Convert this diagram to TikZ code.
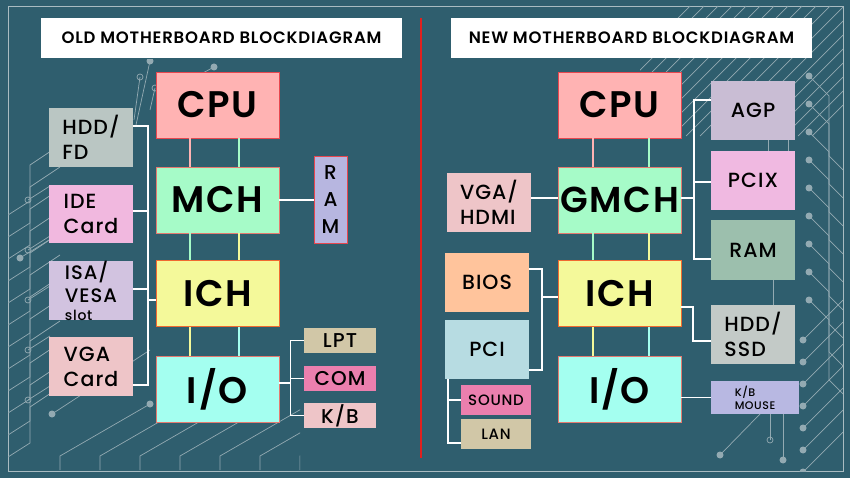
\documentclass[tikz,border=0pt]{standalone}
\usepackage{fontspec}
\setmainfont{Poppins}
\newfontfamily\chipfont[LetterSpace=5]{Poppins SemiBold}
\newfontfamily\partfont[LetterSpace=5]{Poppins Medium}
\definecolor{board}{HTML}{2F5E6E}
\definecolor{decor}{HTML}{93AAB2}
\definecolor{divred}{HTML}{E0201E}
\definecolor{edgered}{HTML}{E8474F}
\definecolor{edgesal}{HTML}{E57A70}
\definecolor{edgeorg}{HTML}{F06A30}
\definecolor{cpuc}{HTML}{FFB3B3}
\definecolor{mchc}{HTML}{A6FBC8}
\definecolor{ichc}{HTML}{F4F99A}
\definecolor{ioc}{HTML}{A4FFF0}
\definecolor{ramc}{HTML}{B7B6E0}
\definecolor{hddc}{HTML}{BAC6C3}
\definecolor{idec}{HTML}{F1B8DF}
\definecolor{isac}{HTML}{D2C3E0}
\definecolor{vgac}{HTML}{EEC5C8}
\definecolor{lptc}{HTML}{D1C7A7}
\definecolor{comc}{HTML}{EB7FAE}
\definecolor{agpc}{HTML}{C9BDD4}
\definecolor{pcixc}{HTML}{F0B9E1}
\definecolor{ramrc}{HTML}{9CBFAD}
\definecolor{ssdc}{HTML}{C3CAC7}
\definecolor{kbmc}{HTML}{B8B8E2}
\definecolor{biosc}{HTML}{FFC49C}
\definecolor{pcic}{HTML}{B7DCE2}
\tikzstyle{chip}=[line width=0.8pt, minimum width=123pt, minimum height=66pt, inner sep=0pt, text=black, font=\chipfont\fontsize{37}{37}\selectfont]
\tikzstyle{part}=[minimum width=84pt, minimum height=59pt, inner sep=0pt, align=left, text=black, font=\partfont\fontsize{20.5}{25}\selectfont]
\tikzstyle{port}=[minimum width=72pt, minimum height=25pt, inner sep=0pt, text=black, font=\partfont\fontsize{20}{20}\selectfont]
\tikzstyle{slot}=[minimum width=70pt, minimum height=30pt, inner sep=0pt, text=black, font=\partfont\fontsize{15}{15}\selectfont]
\tikzstyle{heading}=[fill=white, minimum width=361pt, minimum height=40pt, inner sep=0pt, font=\chipfont\fontsize{16.5}{16.5}\selectfont]
\tikzstyle{wire}=[draw=white, line width=1.2pt]
\tikzstyle{link}=[line width=1.2pt]
\tikzstyle{trace}=[draw=decor, line width=0.7pt]
\tikzstyle{pad}=[circle, fill=decor, inner sep=0pt, minimum size=7pt]
\tikzstyle{via}=[circle, draw=decor, line width=0.7pt, inner sep=0pt, minimum size=6pt]

\begin{document}
\begin{tikzpicture}[x=1pt, y=-1pt]
\fill[board] (0,0) rectangle (850,478);
\useasboundingbox (0,0) rectangle (850,478);

% circuit traces
\draw[trace, draw=decor!80] (8,6) rectangle (843,471);
\begin{scope}
  \clip (8,60) rectangle (300,471);
  \foreach \k in {0,...,11}
    \draw[trace] (8,215+22*\k) -- ++(22,-14) -- ++(0,-36) -- ++(30,-20);
  \foreach \k in {0,...,4}
    \draw[trace] (28,200+50*\k) node[via] {} -- ++(22,-14);
  \foreach \k in {0,...,6}
    \draw[trace] (60+40*\k,470) -- ++(0,-14) -- ++(90,-52) node[pad] {};
  \draw[trace] (150,61) node[pad] {} -- (136,125);
  \draw[trace] (140,77) node[via] {} -- (134,120);
  \draw[trace] (155,88) node[via] {} -- (150,110);
  \draw[trace] (20,258) node[pad] {} -- (49,240);
  \draw[trace] (52,414) node[pad] {} -- (150,350);
\end{scope}
\draw[trace] (214,67) node[pad] {} -- (190,80);
\begin{scope}
  \clip (640,6) rectangle (843,471);
  \foreach \k in {0,...,18}
    \draw[trace] (690+14*\k,6) -- ++(-130,130);
  \foreach \k in {0,...,8}
    \draw[trace] (843,170+28*\k) -- ++(-14,-14) -- ++(0,-60) -- ++(-20,-20) node[pad] {};
  \foreach \k in {0,...,6}
    \draw[trace] (843,300+22*\k) -- ++(-40,40) node[pad] {};
\end{scope}
\draw[trace] (768,135) -- (768,160);
\draw[trace] (788,135) -- (788,160);
\draw[trace] (773,270) -- (773,310);
\draw[trace] (770,414) -- (770,440) node[via] {};
\draw[trace] (783,414) -- (783,460) node[pad] {};
\draw[trace] (760,414) -- (720,455) node[pad] {};

% headings and divider
\node[heading] (oldT) at (221.5,38) {OLD MOTHERBOARD BLOCKDIAGRAM};
\node[heading] (newT) at (631.5,38) {NEW MOTHERBOARD BLOCKDIAGRAM};
\draw[divred, line width=1.2pt] (421,18) -- (421,458);

% old board
\node[chip, draw=edgered, fill=cpuc] (cpuL) at (217.5,105) {CPU};
\node[chip, draw=edgesal, fill=mchc] (mchL) at (217.5,200) {MCH};
\node[chip, draw=edgeorg, fill=ichc] (ichL) at (217.5,293.5) {ICH};
\node[chip, draw=edgesal, fill=ioc] (ioL) at (217.5,389) {I/O};
\node[part, draw=edgered, line width=0.8pt, fill=ramc, minimum width=33pt, minimum height=87pt, align=center, font=\partfont\fontsize{20}{27}\selectfont] (ramL) at (330.5,199.5) {R\\A\\M};
\node[part, fill=hddc] (hddL) at (91,137.5) {HDD/\\FD};
\node[part, fill=idec, minimum height=58pt] (ideL) at (91,214) {IDE\\Card};
\node[part, fill=isac, font=\partfont\fontsize{19.5}{23}\selectfont] (isaL) at (91,290.5) {ISA/\\VESA\\[-5pt]{\fontsize{14}{14}\selectfont slot}};
\node[part, fill=vgac] (vgaL) at (91,366.5) {VGA\\Card};
\node[port, fill=lptc] (lpt) at (340,340.5) {LPT};
\node[port, fill=comc] (com) at (340,378.5) {COM};
\node[port, fill=vgac] (kbL) at (340,415.5) {K/B};

\draw[link, cpuc] (cpuL.south -| 190,0) -- (mchL.north -| 190,0);
\draw[link, mchc] (cpuL.south -| 239,0) -- (mchL.north -| 239,0);
\draw[link, mchc] (mchL.south -| 190,0) -- (ichL.north -| 190,0);
\draw[link, ichc] (mchL.south -| 239,0) -- (ichL.north -| 239,0);
\draw[link, ichc] (ichL.south -| 190,0) -- (ioL.north -| 190,0);
\draw[link, ioc] (ichL.south -| 239,0) -- (ioL.north -| 239,0);
\draw[wire] (mchL.east) -- (ramL.west |- mchL.east);
\draw[wire] (hddL.east |- 0,126) -- (148,126) coordinate (busL) |- (vgaL.east |- 0,385);
\draw[wire] (ideL.east |- 0,211) -- (busL |- 0,211);
\draw[wire] (isaL.east |- 0,289) -- (busL |- 0,289);
\draw[wire] (busL |- 0,300) -- (ichL.west |- 0,300);
\draw[wire] (lpt.west) -- ++(-13,0) coordinate (busIO) |- (kbL.west);
\draw[wire] (com.west) -- (com.west -| busIO);
\draw[wire] (ioL.east |- 0,383) -- (busIO |- 0,383);

% new board
\node[chip, draw=edgered, fill=cpuc] (cpuR) at (619.5,105) {CPU};
\node[chip, draw=edgesal, fill=mchc, font=\chipfont\fontsize{36}{36}\selectfont] (gmchR) at (619.5,200) {GMCH};
\node[chip, draw=edgeorg, fill=ichc] (ichR) at (619.5,293.5) {ICH};
\node[chip, draw=edgesal, fill=ioc] (ioR) at (619.5,389) {I/O};
\node[part, fill=vgac] (vgaR) at (489,202.5) {VGA/\\HDMI};
\node[part, fill=agpc] (agp) at (753,110.5) {AGP};
\node[part, fill=pcixc] (pcix) at (753,180.5) {PCIX};
\node[part, fill=ramrc] (ramR) at (753,250) {RAM};
\node[part, fill=ssdc] (hddR) at (753,334.5) {HDD/\\SSD};
\node[part, fill=kbmc, minimum width=88pt, minimum height=33pt, font=\partfont\fontsize{11}{13}\selectfont] (kbm) at (755,397.5) {K/B\\MOUSE};
\node[part, fill=biosc] (bios) at (487,282.5) {BIOS};
\node[part, fill=pcic] (pci) at (487,349.5) {PCI};
\node[slot, fill=comc] (sound) at (496,400) {SOUND};
\node[slot, fill=lptc] (lan) at (496,434) {LAN};

\draw[link, cpuc] (cpuR.south -| 593,0) -- (gmchR.north -| 593,0);
\draw[link, mchc] (cpuR.south -| 649,0) -- (gmchR.north -| 649,0);
\draw[link, mchc] (gmchR.south -| 593,0) -- (ichR.north -| 593,0);
\draw[link, ichc] (gmchR.south -| 649,0) -- (ichR.north -| 649,0);
\draw[link, ichc] (ichR.south -| 593,0) -- (ioR.north -| 593,0);
\draw[link, ioc] (ichR.south -| 649,0) -- (ioR.north -| 649,0);
\draw[wire] (vgaR.east |- 0,198) -- (gmchR.west |- 0,198);
\draw[wire] (agp.west |- 0,100) -- (694,100) coordinate (busG) |- (ramR.west |- 0,259);
\draw[wire] (pcix.west |- 0,182) -- (busG |- 0,182);
\draw[wire] (gmchR.east |- 0,198) -- (busG |- 0,198);
\draw[wire] (ichR.east |- 0,307) -- (693,307) |- (hddR.west |- 0,341);
\draw[wire] (ioR.east |- kbm.west) -- (kbm.west);
\draw[wire] (bios.east |- 0,269) -- (542,269) coordinate (busB) |- (pci.east |- 0,370);
\draw[wire] (busB |- 0,297) -- (ichR.west |- 0,297);
\draw[wire] (pci.south -| 448,0) |- (lan.west |- 0,443);
\draw[wire] (448,400) -- (sound.west);
\end{tikzpicture}
\end{document}
